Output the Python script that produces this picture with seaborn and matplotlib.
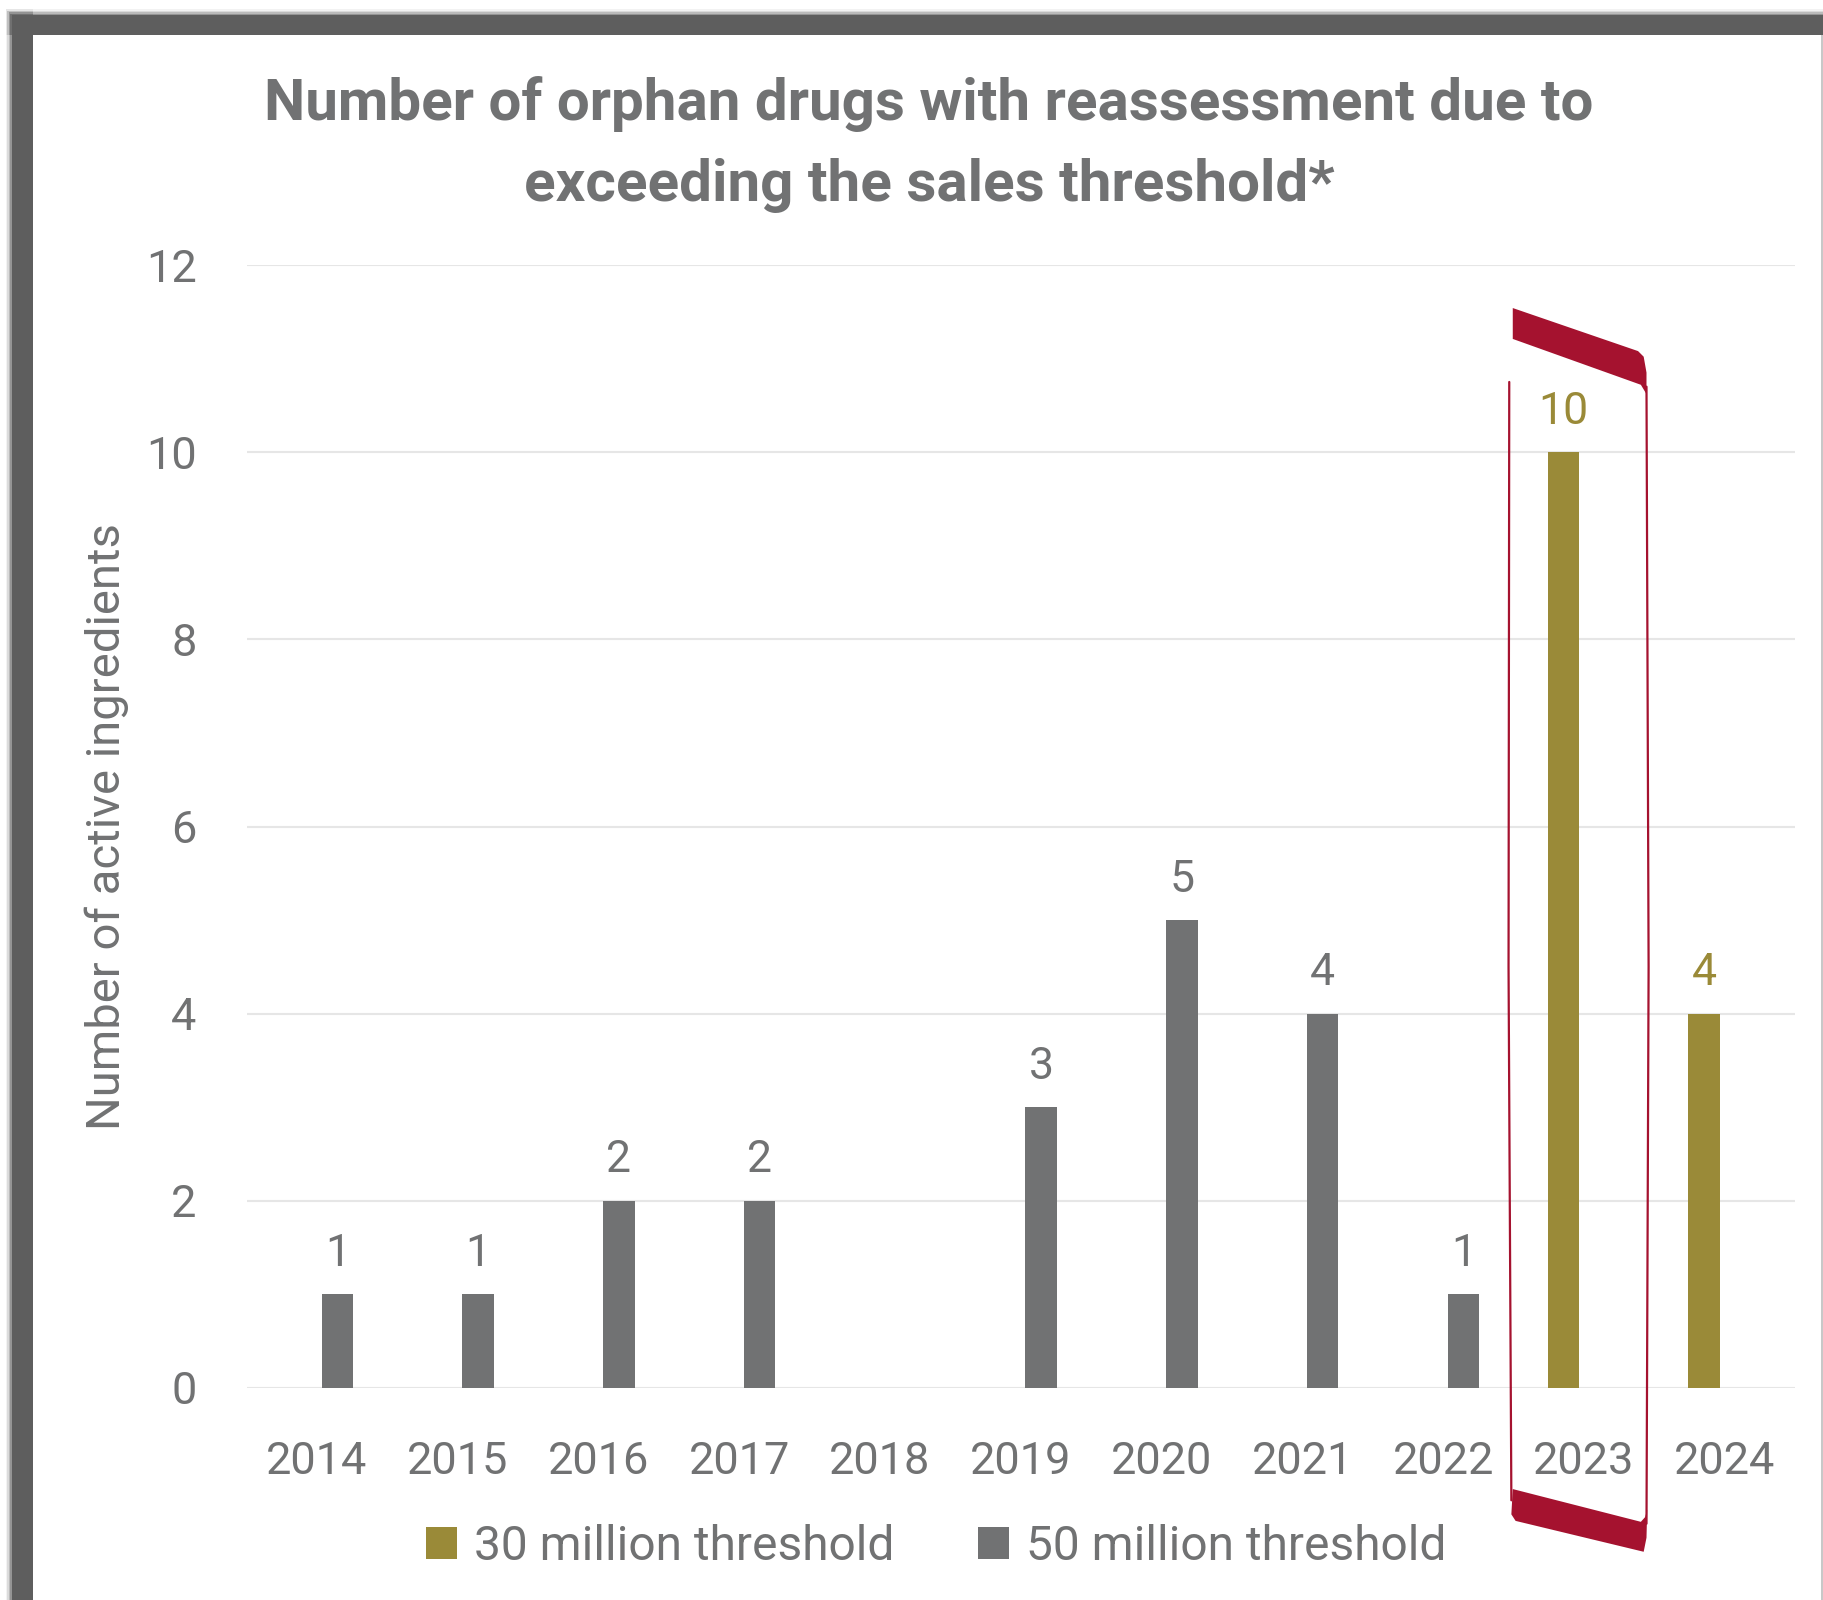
import matplotlib
matplotlib.use("Agg")
import matplotlib.pyplot as plt
import seaborn as sns
import pandas as pd
import numpy as np
from matplotlib.patches import Polygon, Rectangle, Patch
from matplotlib.lines import Line2D

# ---------------- data ----------------
years = ["2014", "2015", "2016", "2017", "2018", "2019", "2020", "2021", "2022", "2023", "2024"]
threshold_30m = [np.nan, np.nan, np.nan, np.nan, np.nan, np.nan, np.nan, np.nan, np.nan, 10, 4]
threshold_50m = [1, 1, 2, 2, np.nan, 3, 5, 4, 1, np.nan, np.nan]
series_names = ["30 million threshold", "50 million threshold"]
y_ticks = [0, 2, 4, 6, 8, 10, 12]
title_lines = ["Number of orphan drugs with reassessment due to",
               "exceeding the sales threshold*"]
y_label = "Number of active ingredients"

GOLD = "#9A8A38"
GRAY = "#717273"
TEXT = "#717273"
RED = "#A5122F"
GRID = "#E6E6E6"

sns.set_theme(style="white")
plt.rcParams['font.family'] = ['Roboto', 'DejaVu Sans']

df = pd.DataFrame({
    "year": years * 2,
    "value": threshold_30m + threshold_50m,
    "series": [series_names[0]] * len(years) + [series_names[1]] * len(years),
})

W, H = 1824, 1600
fig = plt.figure(figsize=(W / 100, H / 100), dpi=100)
fig.patch.set_facecolor("white")

# axes in pixel terms
ax_l, ax_r, ax_t, ax_b = 246.6, 1795, 265, 1388
ax = fig.add_axes([ax_l / W, 1 - ax_b / H, (ax_r - ax_l) / W, (ax_b - ax_t) / H])

sns.barplot(data=df, x="year", y="value", hue="series", hue_order=series_names,
            order=years, palette=[GOLD, GRAY], width=0.58, gap=0.23, dodge=True,
            saturation=1, legend=False, linewidth=0, ax=ax, errorbar=None)

for cont, col in zip(ax.containers, [GOLD, GRAY]):
    labels = ["" if np.isnan(v) else f"{v:.0f}" for v in cont.datavalues]
    ax.bar_label(cont, labels=labels, color=col, fontsize=32, padding=14)

ax.set_ylim(0, 12)
ax.set_xlim(-0.5, len(years) - 0.5)
ax.set_yticks(y_ticks)
ax.set_yticklabels([str(t) for t in y_ticks])
ax.yaxis.grid(True, color=GRID, linewidth=1.5)
ax.xaxis.grid(False)
ax.set_axisbelow(True)
for s in ax.spines.values():
    s.set_visible(False)
ax.tick_params(axis="y", length=0, pad=36, labelsize=32.5, labelcolor=TEXT)
ax.tick_params(axis="x", length=0, pad=38, labelsize=32.5, labelcolor=TEXT)
ax.set_xlabel("")
ax.set_ylabel(y_label, fontsize=34, color=TEXT)
ax.yaxis.set_label_coords(-0.076, 0.5)

# title
fig.text(929 / W, 1 - 120 / H, title_lines[0], ha="center", va="baseline",
         fontsize=42, fontweight="bold", color=TEXT)
fig.text(929 / W, 1 - 201 / H, title_lines[1], ha="center", va="baseline",
         fontsize=42, fontweight="bold", color=TEXT)

# legend
handles = [Patch(facecolor=GOLD, edgecolor="none"), Patch(facecolor=GRAY, edgecolor="none")]
fig.legend(handles, series_names, loc="center", bbox_to_anchor=(936 / W, 1 - 1547 / H),
           ncol=2, frameon=False, fontsize=34.5, labelcolor=TEXT,
           handlelength=0.65, handleheight=0.65, handletextpad=0.35, columnspacing=1.75)

# red bracket around 2023 (data coordinates, relative to category index 9)
i = years.index("2023")
xl, xr = i - 0.505, i + 0.445
top_band = [(xl, 11.54), (xr - 0.06, 11.08), (xr - 0.02, 11.02), (xr, 10.85),
            (xr, 10.62), (xr - 0.04, 10.72), (xl, 11.21)]
bot_band = [(xl, -1.08), (xr - 0.04, -1.43), (xr - 0.01, -1.38), (xr + 0.005, -1.30),
            (xr, -1.60), (xr - 0.02, -1.75), (xl + 0.02, -1.42), (xl - 0.01, -1.35)]
for pts in (top_band, bot_band):
    ax.add_patch(Polygon(pts, closed=True, facecolor=RED, edgecolor="none",
                         clip_on=False, zorder=5))
ax.add_line(Line2D([xr, xr + 0.015, xr], [10.7, 4.5, -1.45], color=RED, lw=1.6,
                   clip_on=False, zorder=5))
ax.add_line(Line2D([xl - 0.025, xl - 0.03, xl - 0.01], [10.75, 4.5, -1.2], color=RED, lw=1.6,
                   clip_on=False, zorder=5))

# frame: dark border top and left with soft shadow
for k, a in enumerate([0.08, 0.15, 0.25, 0.4]):
    off = 6 - k * 1.5
    fig.patches.append(Rectangle(((12 - off) / W, 0), (21 + off) / W, 1 - (15 - off) / H,
                                 transform=fig.transFigure, facecolor="#5E5E5E", alpha=a,
                                 edgecolor="none", zorder=0))
    fig.patches.append(Rectangle(((12 - off) / W, 1 - (35) / H), 1, (20 + off) / H,
                                 transform=fig.transFigure, facecolor="#5E5E5E", alpha=a,
                                 edgecolor="none", zorder=0))
fig.patches.append(Rectangle((12 / W, 0), 21 / W, 1 - 15 / H, transform=fig.transFigure,
                             facecolor="#5E5E5E", edgecolor="none", zorder=1))
fig.patches.append(Rectangle((12 / W, 1 - 35 / H), 1, 20 / H, transform=fig.transFigure,
                             facecolor="#5E5E5E", edgecolor="none", zorder=1))
fig.patches.append(Rectangle((1821.5 / W, 0), 2 / W, 1 - 35 / H, transform=fig.transFigure,
                             facecolor="#C8C8C8", edgecolor="none", zorder=1))

fig.savefig("out.png", dpi=100)
